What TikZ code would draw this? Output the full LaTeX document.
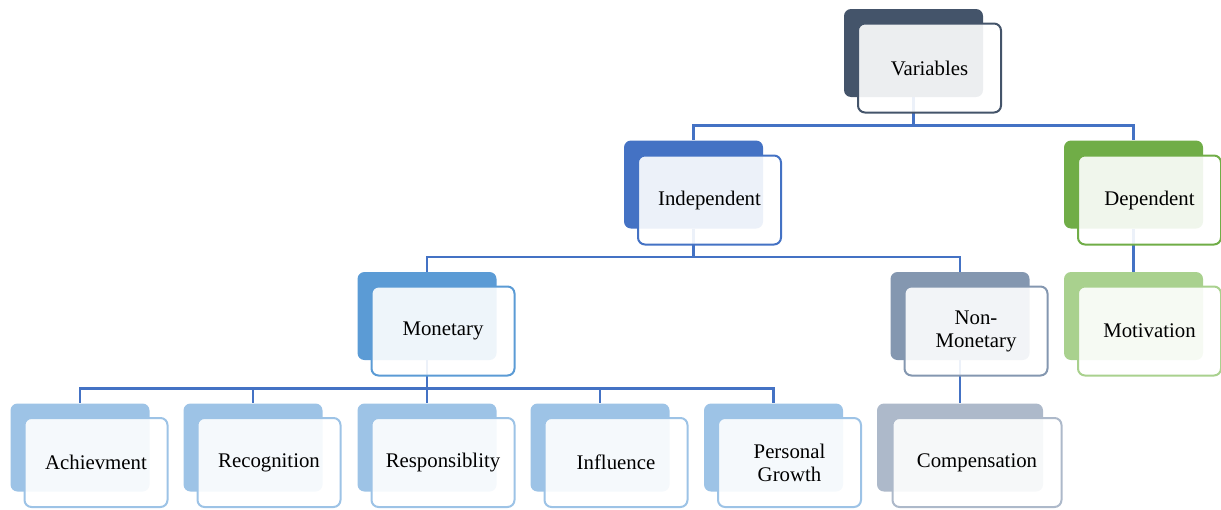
\documentclass[tikz,border=0pt]{standalone}
\usepackage{fontspec}
\setmainfont{Liberation Serif}
\usetikzlibrary{backgrounds}

\definecolor{ardesia}{HTML}{44546A}
\definecolor{ardesiachiaro}{HTML}{8497B0}
\definecolor{ardesiapallido}{HTML}{ADB9CA}
\definecolor{blu}{HTML}{4472C4}
\definecolor{azzurro}{HTML}{5B9BD5}
\definecolor{celeste}{HTML}{9DC3E6}
\definecolor{verde}{HTML}{70AD47}
\definecolor{verdechiaro}{HTML}{A9D18E}

\begin{document}
\begin{tikzpicture}[x=0.5pt, y=-0.5pt]

        \useasboundingbox (0,0) rectangle (1221,509);

        % Stili: riquadro pieno dietro e riquadro chiaro davanti col testo
        \tikzset{
            retro/.style={rectangle, rounded corners=3.5pt, inner sep=0pt,
                minimum width=69.5pt, minimum height=44pt},
            fronte/.style={rectangle, rounded corners=3.5pt, inner sep=0pt,
                line width=1pt, fill=white, fill opacity=0.9, text opacity=1,
                minimum width=71.5pt, minimum height=44.5pt, align=center,
                font=\fontsize{10.4}{11.5}\selectfont},
            ramo/.style={draw=blu, line width=1.2pt}
        }

        % Livello 1
        \node[retro, fill=ardesia] (var) at (913.5,53) {};
        \node[fronte, draw=ardesia] (var-f) at (929.5,68) {Variables};

        % Livello 2
        \node[retro, fill=blu] (ind) at (693.5,184.5) {};
        \node[fronte, draw=blu] (ind-f) at (709.5,200) {Independent};
        \node[retro, fill=verde] (dip) at (1133.5,184.5) {};
        \node[fronte, draw=verde] (dip-f) at (1149.5,200) {Dependent};

        % Livello 3
        \node[retro, fill=azzurro] (mon) at (427,316) {};
        \node[fronte, draw=azzurro] (mon-f) at (443,331) {Monetary};
        \node[retro, fill=ardesiachiaro] (nmon) at (960,316) {};
        \node[fronte, draw=ardesiachiaro] (nmon-f) at (976,331) {Non-\\Monetary};
        \node[retro, fill=verdechiaro] (mot) at (1133.5,316) {};
        \node[fronte, draw=verdechiaro] (mot-f) at (1149.5,331) {Motivation};

        % Livello 4
        \node[retro, fill=celeste] (ach) at (80,447.5) {};
        \node[fronte, draw=celeste] (ach-f) at (96,462.5) {Achievment};
        \node[retro, fill=celeste] (ric) at (253,447.5) {};
        \node[fronte, draw=celeste] (ric-f) at (269,462.5) {Recognition};
        \node[retro, fill=celeste] (resp) at (427,447.5) {};
        \node[fronte, draw=celeste] (resp-f) at (443,462.5) {Responsiblity};
        \node[retro, fill=celeste] (infl) at (600,447.5) {};
        \node[fronte, draw=celeste] (infl-f) at (616,462.5) {Influence};
        \node[retro, fill=celeste] (cresc) at (773.5,447.5) {};
        \node[fronte, draw=celeste] (cresc-f) at (789.5,462.5) {Personal\\Growth};
        \node[retro, fill=ardesiapallido, minimum width=83pt] (comp) at (960,447.5) {};
        \node[fronte, draw=ardesiapallido, minimum width=84.5pt] (comp-f) at (977,462.5) {Compensation};

        % Collegamenti, dietro a tutti i riquadri
        \begin{pgfonlayer}{background}
            \foreach \figlio in {ind,dip} {
                \draw[ramo] (var.south) -- ++(0,28) -| (\figlio.north);
            }
            \foreach \figlio in {mon,nmon} {
                \draw[ramo] (ind.south) -- ++(0,28) -| (\figlio.north);
            }
            \foreach \figlio in {ach,ric,resp,infl,cresc} {
                \draw[ramo] (mon.south) -- ++(0,28) -| (\figlio.north);
            }
            \draw[ramo] (dip.south) -- (mot.north);
            \draw[ramo] (nmon.south) -- (comp.north);
        \end{pgfonlayer}

\end{tikzpicture}
\end{document}
